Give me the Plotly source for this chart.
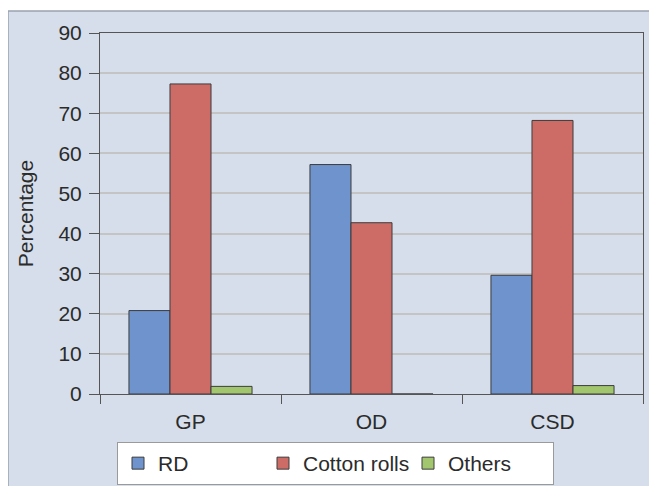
import plotly.graph_objects as go

categories = ["GP", "OD", "CSD"]
rd = [20.8, 57.2, 29.6]
cotton_rolls = [77.3, 42.7, 68.2]
others = [1.9, 0, 2.1]
y_ticks = [0, 10, 20, 30, 40, 50, 60, 70, 80, 90]

FONT = "Liberation Sans, Arial, sans-serif"
TXT = "#2b2b2b"
FS = 21
OUTLINE = dict(color="#3c3c3c", width=1)

fig = go.Figure()
fig.add_trace(go.Bar(name="RD", x=categories, y=rd,
                     marker=dict(color="#6f93cc", line=OUTLINE)))
fig.add_trace(go.Bar(name="Cotton rolls", x=categories, y=cotton_rolls,
                     marker=dict(color="#cd6b66", line=OUTLINE)))
fig.add_trace(go.Bar(name="Others", x=categories, y=others,
                     marker=dict(color="#a2c66e", line=OUTLINE)))

# page has an 8px body margin, so the figure starts at (8, 8)
OFF = 8
W, H = 657 - OFF, 486 - OFF
L, T = 100 - OFF, 33 - OFF
RIGHT, BOTTOM = 643 - OFF, 394 - OFF
R, B = W - RIGHT, H - BOTTOM
pw, ph = W - L - R, H - T - B

def px(x):
    return (x - OFF - L) / pw

def py(y):
    return (H - B - (y - OFF)) / ph

fig.update_layout(
    width=W, height=H,
    margin=dict(l=L, r=R, t=T, b=B, pad=0, autoexpand=False),
    paper_bgcolor="white",
    plot_bgcolor="white",
    barmode="group",
    bargap=0.32,
    bargroupgap=0,
    font=dict(family=FONT, size=FS, color=TXT),
    shapes=[dict(type="rect", xref="paper", yref="paper",
                 x0=px(8), x1=px(700), y0=py(520), y1=py(11),
                 fillcolor="#d5deea", line=dict(color="#9aa3b0", width=1.5),
                 layer="below")],
    legend=dict(orientation="h", x=px(335.5), xanchor="center",
                y=py(442), yanchor="top",
                bgcolor="white", bordercolor="#9a9a9a", borderwidth=1,
                font=dict(size=FS, family=FONT, color=TXT),
                entrywidth=100, itemclick=False, itemdoubleclick=False),
    xaxis=dict(showline=True, linecolor="#555555", linewidth=1, mirror=True,
               ticks="outside", tickson="boundaries", ticklen=9,
               tickcolor="#555555", showgrid=False, automargin=False,
               ticklabelstandoff=9,
               tickfont=dict(size=FS, family=FONT, color=TXT)),
    yaxis=dict(range=[0, 90], tickvals=y_ticks, showline=True,
               linecolor="#555555", linewidth=1, mirror=True,
               ticks="outside", ticklen=10, tickcolor="#555555",
               showgrid=True, gridcolor="#c4c4c4", gridwidth=1.5,
               zeroline=False, automargin=False, ticklabelstandoff=3,
               tickfont=dict(size=FS, family=FONT, color=TXT),
               title=dict(text="Percentage", standoff=19,
                          font=dict(size=FS, family=FONT, color=TXT))),
)

fig.write_html("out.html")
